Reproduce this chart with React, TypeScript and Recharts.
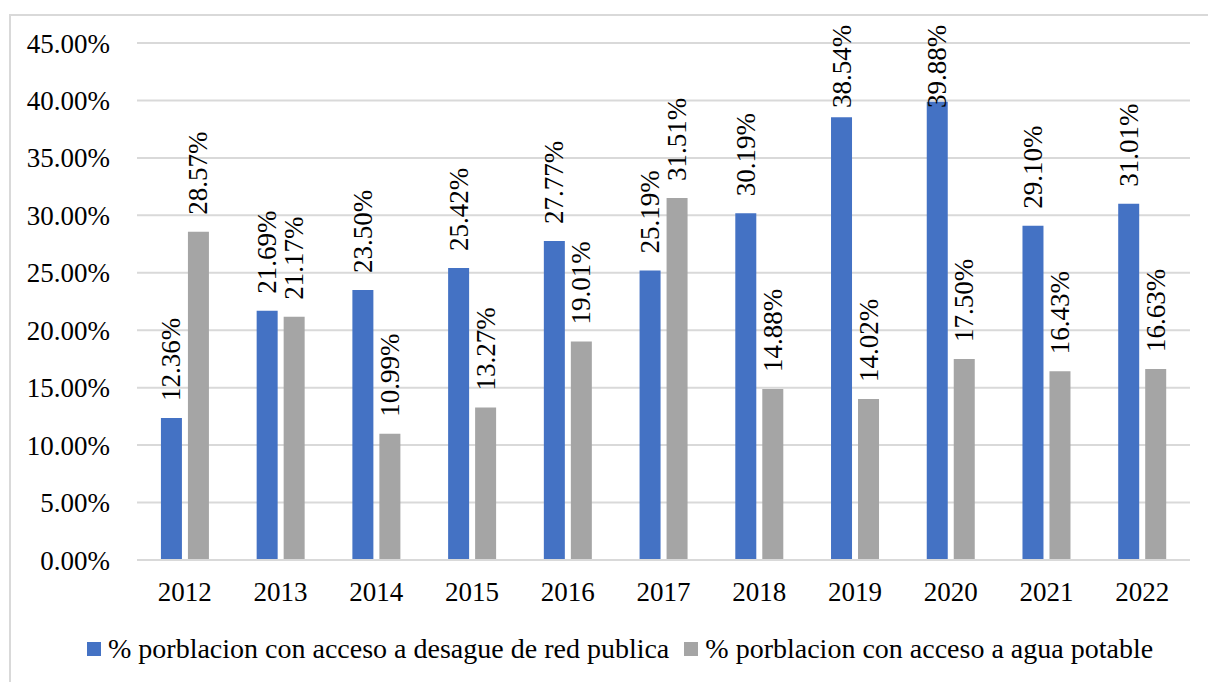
import React from "react";
import { BarChart, Bar, XAxis, YAxis, CartesianGrid, LabelList } from "recharts";

const years = ["2012", "2013", "2014", "2015", "2016", "2017", "2018", "2019", "2020", "2021", "2022"];
const desague = [12.36, 21.69, 23.5, 25.42, 27.77, 25.19, 30.19, 38.54, 39.88, 29.1, 31.01];
const agua = [28.57, 21.17, 10.99, 13.27, 19.01, 31.51, 14.88, 14.02, 17.5, 16.43, 16.63];
const yTicks = [0, 5, 10, 15, 20, 25, 30, 35, 40, 45];
const seriesNames = [
  "% porblacion con acceso a desague de red publica",
  "% porblacion con acceso a agua potable",
];
const colors = ["#4472C4", "#A5A5A5"];

const data = years.map((y, i) => ({ year: y, desague: desague[i], agua: agua[i] }));

const FONT = "Liberation Serif, Times New Roman, serif";
const FS = 27;
const LABEL_LEN = 83;
const TOP_LIMIT = 25;

const renderLabel = (props: any) => {
  const { x, y, width, value } = props;
  const cx = Number(x) + Number(width) / 2;
  const yStart = Math.max(Number(y) - 17, TOP_LIMIT + LABEL_LEN);
  return (
    <text
      x={cx}
      y={yStart}
      transform={`rotate(-90, ${cx}, ${yStart})`}
      textAnchor="start"
      dominantBaseline="central"
      style={{ fontFamily: FONT, fontSize: FS }}
      fill="#000"
    >
      {Number(value).toFixed(2) + "%"}
    </text>
  );
};

export default function App() {
  return (
    <div style={{ position: "fixed", left: 0, top: 0, width: 1208, height: 682, overflow: "hidden", background: "#fff" }}>
      <div
        style={{
          position: "absolute",
          left: 9,
          top: 14,
          width: 1300,
          height: 800,
          borderTop: "2px solid #d9d9d9",
          borderLeft: "2px solid #d9d9d9",
        }}
      />
      <div style={{ position: "absolute", left: 0, top: 0 }}>
        <BarChart
          width={1208}
          height={682}
          data={data}
          margin={{ top: 43, right: 18, left: 0, bottom: 121 }}
          barCategoryGap="25%"
          barGap={6}
          style={{ fontFamily: FONT }}
        >
          <CartesianGrid vertical={false} stroke="#d9d9d9" strokeWidth={2} />
          <XAxis
            dataKey="year"
            axisLine={{ stroke: "#d9d9d9", strokeWidth: 2 }}
            tickLine={false}
            tickSize={0}
            tickMargin={22}
            tick={{ fontFamily: FONT, fontSize: FS, fill: "#000" }}
            height={1}
          />
          <YAxis
            width={137}
            domain={[0, 45]}
            ticks={yTicks}
            interval={0}
            axisLine={false}
            tickLine={false}
            tickSize={0}
            tickMargin={27}
            tickFormatter={(v: number) => v.toFixed(2) + "%"}
            tick={{ fontFamily: FONT, fontSize: FS, fill: "#000" }}
          />
          <Bar dataKey="desague" name={seriesNames[0]} fill={colors[0]} isAnimationActive={false}>
            <LabelList dataKey="desague" content={renderLabel} />
          </Bar>
          <Bar dataKey="agua" name={seriesNames[1]} fill={colors[1]} isAnimationActive={false}>
            <LabelList dataKey="agua" content={renderLabel} />
          </Bar>
        </BarChart>
      </div>
      <div
        style={{
          position: "absolute",
          left: 87,
          top: 632,
          display: "flex",
          fontFamily: FONT,
          fontSize: 28,
          lineHeight: "34px",
          color: "#000",
          whiteSpace: "nowrap",
        }}
      >
        {seriesNames.map((n, i) => (
          <div key={n} style={{ display: "flex", alignItems: "center", marginRight: 15 }}>
            <span style={{ display: "inline-block", width: 14, height: 14, background: colors[i], marginRight: 7 }} />
            <span>{n}</span>
          </div>
        ))}
      </div>
    </div>
  );
}
